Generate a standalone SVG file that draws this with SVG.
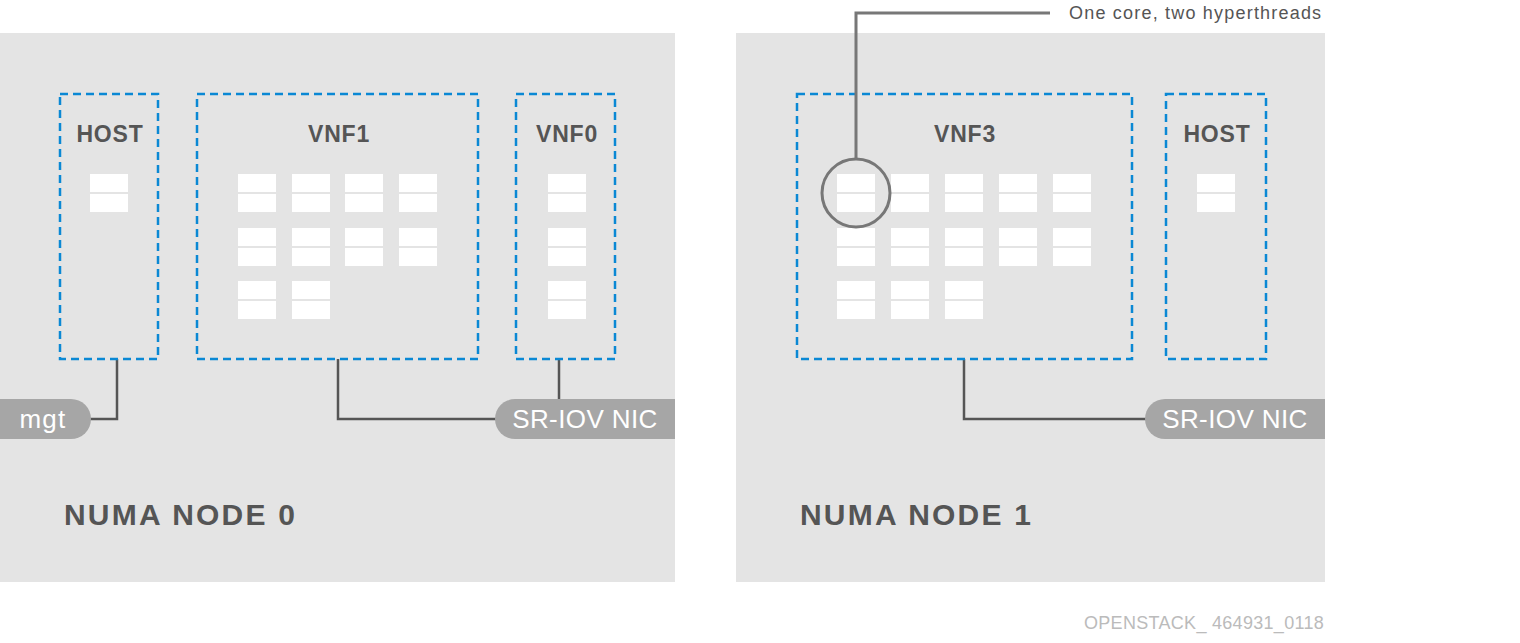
<svg xmlns="http://www.w3.org/2000/svg" width="1520" height="643" viewBox="0 0 1520 643">
<defs>
<style>
.panel{fill:#e4e4e4}
.box{fill:none;stroke:#0a88d4;stroke-width:2.5;stroke-dasharray:8 5}
.core{fill:#ffffff}
.title{font-family:"Liberation Sans",Arial,sans-serif;font-weight:bold;font-size:23px;fill:#555555;text-anchor:middle;letter-spacing:0.8px}
.numa{font-family:"Liberation Sans",Arial,sans-serif;font-weight:bold;font-size:30px;fill:#555555;letter-spacing:2.2px}
.pill{fill:#a6a6a6}
.pilltext{font-family:"Liberation Sans",Arial,sans-serif;font-size:26px;fill:#ffffff;text-anchor:middle;letter-spacing:0.4px}
.conn{fill:none;stroke:#555555;stroke-width:2.5}
.callout{fill:none;stroke:#777777;stroke-width:3}
.note{font-family:"Liberation Sans",Arial,sans-serif;font-size:18px;fill:#555555;letter-spacing:1.2px}
.foot{font-family:"Liberation Sans",Arial,sans-serif;font-size:18px;fill:#bbbbbb;letter-spacing:0.3px}
</style>
<g id="pair">
<rect class="core" x="0" y="0" width="38" height="18"/>
<rect class="core" x="0" y="20" width="38" height="18"/>
</g>
</defs>

<g id="numa0">
<rect class="panel" x="0" y="33" width="675" height="549"/>
<text class="numa" x="64" y="525">NUMA NODE 0</text>
</g>
<g id="numa1">
<rect class="panel" x="736" y="33" width="589" height="549"/>
<text class="numa" x="800" y="525">NUMA NODE 1</text>
</g>

<g id="connectors">
<polyline class="conn" points="117,359 117,419 88,419"/>
<polyline class="conn" points="338,359 338,419 497,419"/>
<polyline class="conn" points="559,359 559,401"/>
<polyline class="conn" points="964,359 964,419 1147,419"/>
</g>

<g id="host0">
<rect class="box" x="60" y="94" width="98" height="265"/>
<text class="title" x="110" y="142">HOST</text>
<use href="#pair" x="90" y="174"/>
</g>

<g id="vnf1">
<rect class="box" x="197" y="94" width="281" height="265"/>
<text class="title" x="339" y="142">VNF1</text>
<use href="#pair" x="238" y="174"/><use href="#pair" x="292" y="174"/><use href="#pair" x="345" y="174"/><use href="#pair" x="399" y="174"/>
<use href="#pair" x="238" y="228"/><use href="#pair" x="292" y="228"/><use href="#pair" x="345" y="228"/><use href="#pair" x="399" y="228"/>
<use href="#pair" x="238" y="281"/><use href="#pair" x="292" y="281"/>
</g>

<g id="vnf0">
<rect class="box" x="516" y="94" width="99" height="265"/>
<text class="title" x="567" y="142">VNF0</text>
<use href="#pair" x="548" y="174"/>
<use href="#pair" x="548" y="228"/>
<use href="#pair" x="548" y="281"/>
</g>

<g id="vnf3">
<rect class="box" x="797" y="94" width="335" height="265"/>
<text class="title" x="965" y="142">VNF3</text>
<use href="#pair" x="837" y="174"/><use href="#pair" x="891" y="174"/><use href="#pair" x="945" y="174"/><use href="#pair" x="999" y="174"/><use href="#pair" x="1053" y="174"/>
<use href="#pair" x="837" y="228"/><use href="#pair" x="891" y="228"/><use href="#pair" x="945" y="228"/><use href="#pair" x="999" y="228"/><use href="#pair" x="1053" y="228"/>
<use href="#pair" x="837" y="281"/><use href="#pair" x="891" y="281"/><use href="#pair" x="945" y="281"/>
</g>

<g id="host1">
<rect class="box" x="1166" y="94" width="100" height="265"/>
<text class="title" x="1217" y="142">HOST</text>
<use href="#pair" x="1197" y="174"/>
</g>

<g id="mgt">
<path class="pill" d="M0,399 H71 A20,20 0 0 1 71,439 H0 Z"/>
<text class="pilltext" x="43" y="428" style="letter-spacing:1.2px">mgt</text>
</g>

<g id="nic0">
<path class="pill" d="M515,399 H675 V439 H515 A20,20 0 0 1 515,399 Z"/>
<text class="pilltext" x="585" y="428">SR-IOV NIC</text>
</g>

<g id="nic1">
<path class="pill" d="M1165,399 H1325 V439 H1165 A20,20 0 0 1 1165,399 Z"/>
<text class="pilltext" x="1235" y="428">SR-IOV NIC</text>
</g>

<g id="callout">
<circle class="callout" cx="856" cy="193" r="34"/>
<polyline class="callout" points="856,159 856,13 1050,13"/>
<text class="note" x="1069" y="19">One core, two hyperthreads</text>
</g>

<text class="foot" x="1084" y="629">OPENSTACK_ 464931_0118</text>
</svg>
